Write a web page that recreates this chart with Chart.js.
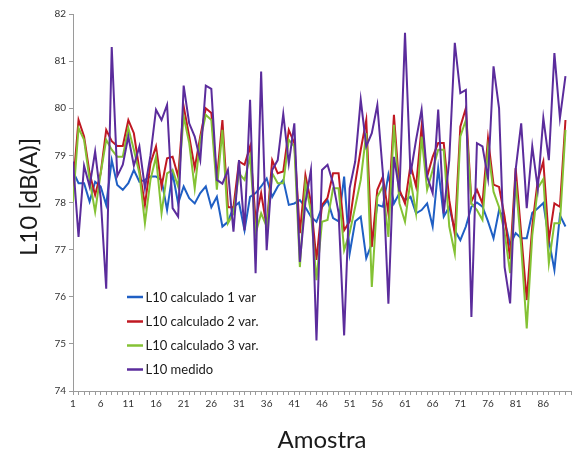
<!DOCTYPE html>
<html>
<head>
<meta charset="utf-8">
<script src="https://cdn.jsdelivr.net/npm/chart.js@4"></script>
<style>
html,body{margin:0;padding:0;background:#fff;}
#wrap{position:relative;width:574px;height:454px;}
canvas{display:block;}
</style>
</head>
<body>
<div id="wrap"><canvas id="c" width="574" height="454"></canvas></div>
<script>
// ---- data ----
const samples = Array.from({length: 90}, (_, i) => i + 1);
const xTickLabels = [1, 6, 11, 16, 21, 26, 31, 36, 41, 46, 51, 56, 61, 66, 71, 76, 81, 86];
const yTicks = [74, 75, 76, 77, 78, 79, 80, 81, 82];
const seriesNames = ["L10 calculado 1 var", "L10 calculado 2 var.", "L10 calculado 3 var.", "L10 medido"];

const calc1 = [78.66,78.41,78.41,78.02,78.44,78.34,77.95,78.9,78.37,78.27,
  78.41,78.69,78.44,78.48,78.55,78.55,78.48,77.84,78.62,77.98,
  78.34,78.09,77.98,78.2,78.34,77.9,78.12,77.49,77.59,77.9,
  78.0,77.41,78.12,78.2,78.34,78.51,78.12,78.34,78.48,77.95,
  77.98,78.05,77.9,77.7,77.59,77.9,78.05,77.67,77.6,78.55,
  76.92,77.6,77.7,76.82,77.13,77.95,77.91,78.59,77.98,78.2,
  78.05,78.12,77.77,77.84,77.98,77.49,78.73,77.7,77.91,77.41,
  77.2,77.49,77.91,78.0,77.91,77.6,77.24,77.84,77.63,77.1,
  77.35,77.24,77.24,77.78,77.88,77.99,77.2,76.57,77.73,77.49];

const calc2 = [78.34,79.75,79.4,78.62,78.16,78.62,79.54,79.3,79.2,79.2,
  79.75,79.47,78.69,77.95,78.83,79.19,78.34,78.94,78.97,78.55,
  80.04,79.4,78.73,79.4,80.0,79.9,78.48,79.75,77.9,77.9,
  78.87,78.8,79.19,77.63,78.2,77.49,78.9,78.62,78.66,79.54,
  79.26,77.35,78.58,78.0,76.78,77.95,78.1,78.62,78.62,77.41,
  77.6,78.41,79.12,79.75,77.06,78.27,78.55,77.77,79.86,78.27,
  77.98,78.8,78.34,79.61,78.55,78.97,79.26,79.26,78.05,77.34,
  79.61,80.0,78.02,78.27,77.98,79.36,78.38,78.33,77.7,76.8,
  78.73,77.33,75.93,77.5,78.48,78.87,77.2,77.98,77.91,79.75];

const calc3 = [78.02,79.58,79.33,78.48,77.8,78.62,79.33,79.12,78.97,78.97,
  79.58,79.12,78.62,77.56,78.48,78.97,77.77,78.62,78.69,78.34,
  79.83,79.26,78.3,79.33,79.86,79.75,78.27,79.54,77.56,77.77,
  78.62,78.48,78.97,77.34,77.77,77.49,78.62,78.41,78.41,79.33,
  79.19,76.63,78.41,77.8,76.35,77.59,77.63,78.3,78.3,76.99,
  77.36,77.91,78.48,79.47,76.21,78.12,78.34,77.27,79.65,77.98,
  77.59,78.48,77.77,79.4,78.27,78.69,79.12,79.12,77.49,76.92,
  79.4,79.75,77.98,77.84,77.63,79.15,78.23,77.9,77.36,76.5,
  78.45,77.06,75.33,77.3,78.3,78.5,76.71,77.56,77.56,79.54];

const medido = [78.87,77.27,78.78,78.34,79.08,78.1,76.17,81.3,78.56,78.8,
  79.4,78.78,79.19,78.3,79.0,79.97,79.75,80.07,77.88,77.7,
  80.48,79.68,79.4,78.9,80.48,80.41,78.48,78.4,78.69,77.38,
  78.9,77.41,80.18,76.5,80.78,76.99,78.69,78.9,79.88,78.83,
  79.68,76.74,78.0,78.69,75.07,78.69,78.8,78.41,77.78,75.18,
  78.3,78.87,80.18,79.19,79.47,80.07,78.62,75.85,78.97,78.23,
  81.6,78.6,79.33,79.97,78.55,78.2,79.97,77.77,78.9,81.39,
  80.32,80.39,75.57,79.26,79.19,78.51,80.89,80.0,76.63,75.86,
  78.7,79.68,77.88,79.19,78.3,79.79,78.9,81.17,79.79,80.68];

const seriesValues = [calc1, calc2, calc3, medido];
const seriesColors = ["#1f5fc4", "#c01822", "#84c234", "#5b2c9c"];

// ---- chart ----
const FONT = "Lato, 'Open Sans', sans-serif";

const extras = {
  id: 'extras',
  afterDraw(chart) {
    const ctx = chart.ctx;
    const ca = chart.chartArea;
    ctx.save();
    ctx.fillStyle = '#1a1a1a';
    ctx.font = "24px " + FONT;
    ctx.textAlign = 'center';
    ctx.textBaseline = 'middle';
    ctx.fillText('Amostra', (ca.left + ca.right) / 2, 440);
    ctx.translate(29, 197);
    ctx.rotate(-Math.PI / 2);
    ctx.fillText('L10 [dB(A)]', 0, 0);
    ctx.restore();

    ctx.save();
    const rows = [297, 321.5, 345.5, 369.5];
    ctx.font = "13px " + FONT;
    ctx.textAlign = 'left';
    ctx.textBaseline = 'middle';
    seriesNames.forEach((name, i) => {
      ctx.strokeStyle = seriesColors[i];
      ctx.lineWidth = 2.5;
      ctx.beginPath();
      ctx.moveTo(127, rows[i]);
      ctx.lineTo(143, rows[i]);
      ctx.stroke();
      ctx.fillStyle = '#1a1a1a';
      ctx.fillText(name, 145.5, rows[i] + 0.5);
    });
    ctx.restore();
  }
};

const drawOrder = [3, 2, 1, 0];

new Chart(document.getElementById('c'), {
  type: 'line',
  data: {
    datasets: seriesValues.map((vals, k) => ({
      label: seriesNames[k],
      data: vals.map((v, i) => ({x: samples[i], y: v})),
      borderColor: seriesColors[k],
      backgroundColor: seriesColors[k],
      borderWidth: 2,
      pointRadius: 0,
      tension: 0,
      fill: false,
      order: drawOrder[k]
    }))
  },
  options: {
    responsive: false,
    animation: false,
    events: [],
    layout: {padding: {top: 14, right: 1, left: 0, bottom: 0}},
    plugins: {legend: {display: false}, tooltip: {enabled: false}},
    scales: {
      x: {
        type: 'linear',
        min: 1,
        max: samples.length + 1,
        afterFit(s) { s.height = 63; },
        afterBuildTicks(s) {
          const t = samples.map(v => ({value: v}));
          t.push({value: samples.length + 1});
          s.ticks = t;
        },
        ticks: {
          autoSkip: false,
          maxRotation: 0,
          minRotation: 0,
          padding: 3,
          color: '#333',
          font: {family: FONT, size: 10},
          callback: (v) => xTickLabels.includes(v) ? String(v) : ''
        },
        grid: {drawOnChartArea: false, drawTicks: true, tickLength: 4, color: '#9a9a9a', lineWidth: 1},
        border: {display: true, color: '#9a9a9a', width: 1}
      },
      y: {
        min: 74,
        max: 82,
        afterFit(s) { s.width = 73; },
        afterBuildTicks(s) { s.ticks = yTicks.map(v => ({value: v})); },
        ticks: {
          padding: 3,
          color: '#333',
          font: {family: FONT, size: 10},
          callback: (v) => String(v)
        },
        grid: {drawOnChartArea: false, drawTicks: true, tickLength: 4, color: '#9a9a9a', lineWidth: 1},
        border: {display: true, color: '#9a9a9a', width: 1}
      }
    }
  },
  plugins: [extras]
});
</script>
</body>
</html>
